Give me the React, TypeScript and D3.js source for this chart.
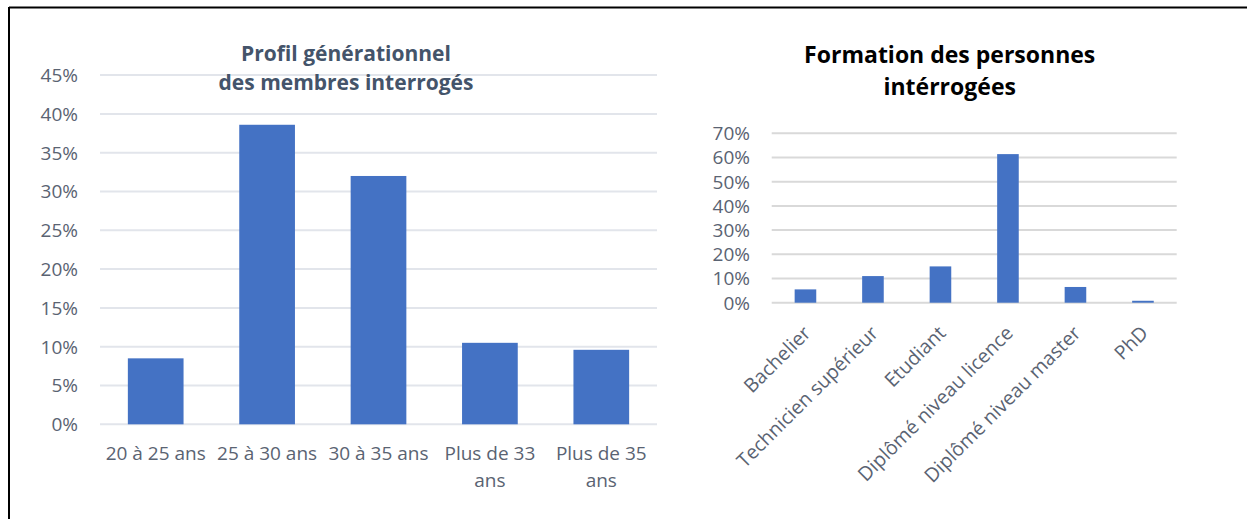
import React from "react";
import * as d3 from "d3";

const ageCategories = ["20 à 25 ans", "25 à 30 ans", "30 à 35 ans", "Plus de 33 ans", "Plus de 35 ans"];
const ageValues = [0.085, 0.386, 0.32, 0.105, 0.096];
const ageTicks = [0, 0.05, 0.1, 0.15, 0.2, 0.25, 0.3, 0.35, 0.4, 0.45];

const eduCategories = ["Bachelier", "Technicien supérieur", "Etudiant", "Diplômé niveau licence", "Diplômé niveau master", "PhD"];
const eduValues = [0.055, 0.11, 0.15, 0.614, 0.065, 0.008];
const eduTicks = [0, 0.1, 0.2, 0.3, 0.4, 0.5, 0.6, 0.7];

const FONT = "'Open Sans', 'Noto Sans', sans-serif";
const BAR = "#4472C4";
const LABEL = "#5a6372";

function wrap(s: string): string[] {
  if (s.length <= 12) return [s];
  const i = s.lastIndexOf(" ");
  return [s.slice(0, i), s.slice(i + 1)];
}

export default function App() {
  const pct = d3.format(".0%");

  // Left chart
  const lx = d3.scaleBand<string>().domain(ageCategories).range([100, 657]).paddingInner(0.5).paddingOuter(0.25);
  const ly = d3.scaleLinear().domain([0, 0.45]).range([424.3, 75.1]);

  // Right chart
  const rx = d3.scaleBand<string>().domain(eduCategories).range([771.7, 1176.7]).paddingInner(0.68).paddingOuter(0.34);
  const ry = d3.scaleLinear().domain([0, 0.7]).range([302.7, 133.3]);

  return (
    <div style={{ position: "absolute", left: 0, top: 0 }}>
      <svg width={1247} height={519} style={{ display: "block", background: "#fff" }} fontFamily={FONT}>
        {/* frame */}
        <line x1={9} y1={7.5} x2={1247} y2={7.5} stroke="#000" strokeWidth={2} />
        <line x1={9} y1={7} x2={9} y2={519} stroke="#000" strokeWidth={2} />

        {/* LEFT CHART */}
        {ageTicks.map((t) => (
          <g key={"lg" + t}>
            <line x1={100} x2={657} y1={ly(t)} y2={ly(t)} stroke="#e2e5eb" strokeWidth={2} />
            <text x={78} y={ly(t)} dy="0.36em" textAnchor="end" fontSize={19} fill={LABEL}>
              {pct(t)}
            </text>
          </g>
        ))}
        {ageCategories.map((c, i) => (
          <rect key={"lb" + c} x={lx(c)!} width={lx.bandwidth()} y={ly(ageValues[i])} height={ly(0) - ly(ageValues[i])} fill={BAR} />
        ))}
        {ageCategories.map((c) => (
          <text key={"lx" + c} x={lx(c)! + lx.bandwidth() / 2} y={460} textAnchor="middle" fontSize={19} fill={LABEL}>
            {wrap(c).map((line, k) => (
              <tspan key={k} x={lx(c)! + lx.bandwidth() / 2} dy={k === 0 ? 0 : 27}>
                {line}
              </tspan>
            ))}
          </text>
        ))}
        <text textAnchor="middle" fontSize={21} fontWeight={700} fill="#44546A">
          <tspan x={346} y={61}>Profil générationnel</tspan>
          <tspan x={346} y={89.5}>des membres interrogés</tspan>
        </text>

        {/* RIGHT CHART */}
        <text textAnchor="middle" fontSize={23} fontWeight={700} fill="#000">
          <tspan x={949.7} y={63}>Formation des personnes</tspan>
          <tspan x={949.7} y={95}>intérrogées</tspan>
        </text>
        {eduTicks.map((t) => (
          <g key={"rg" + t}>
            <line x1={771.7} x2={1176.7} y1={ry(t)} y2={ry(t)} stroke="#d9d9d9" strokeWidth={2} />
            <text x={750} y={ry(t)} dy="0.36em" textAnchor="end" fontSize={19} fill={LABEL}>
              {pct(t)}
            </text>
          </g>
        ))}
        {eduCategories.map((c, i) => (
          <rect key={"rb" + c} x={rx(c)!} width={rx.bandwidth()} y={ry(eduValues[i])} height={ry(0) - ry(eduValues[i])} fill={BAR} />
        ))}
        {eduCategories.map((c) => (
          <text
            key={"rx" + c}
            transform={`translate(${rx(c)! + rx.bandwidth() / 2 - 4},${324}) rotate(-45)`}
            dy="0.75em"
            textAnchor="end"
            fontSize={19.5}
            fill={LABEL}
          >
            {c}
          </text>
        ))}
      </svg>
    </div>
  );
}
